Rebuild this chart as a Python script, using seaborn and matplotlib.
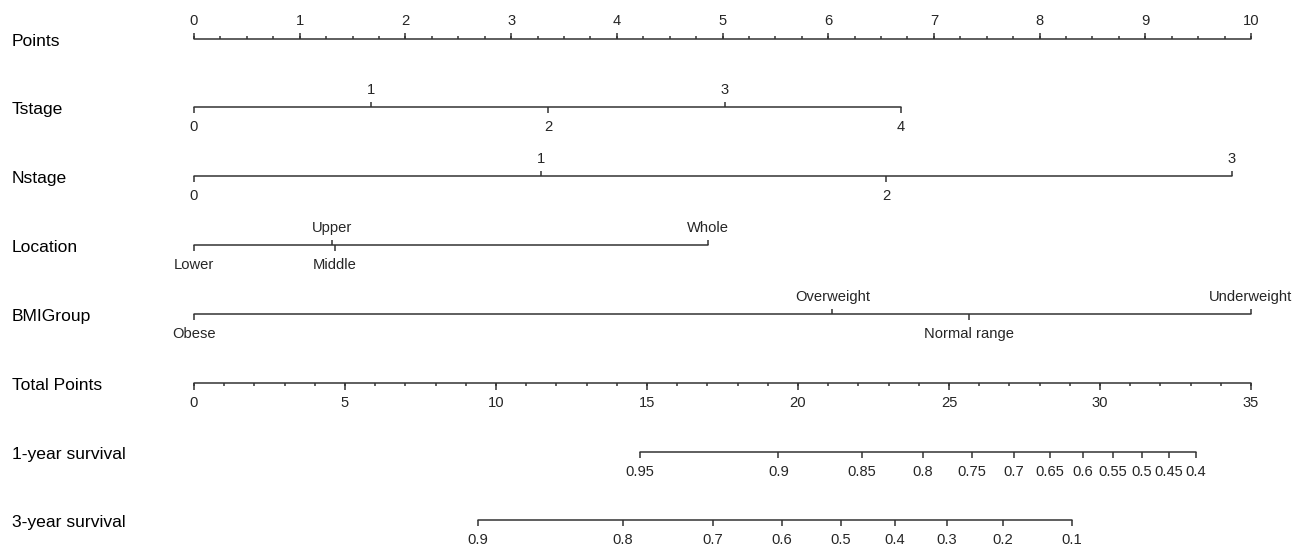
import numpy as np
import pandas as pd
import matplotlib
matplotlib.use("Agg")
import matplotlib.pyplot as plt
import seaborn as sns

# ---------------- data ----------------
row_names = ["Points", "Tstage", "Nstage", "Location", "BMIGroup",
             "Total Points", "1-year survival", "3-year survival"]

points_ticks = [0, 1, 2, 3, 4, 5, 6, 7, 8, 9, 10]

tstage_levels = ["0", "1", "2", "3", "4"]
tstage_points = [0.0, 1.67, 3.35, 5.02, 6.69]

nstage_levels = ["0", "1", "2", "3"]
nstage_points = [0.0, 3.28, 6.55, 9.82]

location_levels = ["Lower", "Upper", "Middle", "Whole"]
location_points = [0.0, 1.31, 1.33, 4.86]

bmi_levels = ["Obese", "Overweight", "Normal range", "Underweight"]
bmi_points = [0.0, 6.04, 7.33, 10.0]

total_ticks = [0, 5, 10, 15, 20, 25, 30, 35]
total_max = 35

surv1_labels = ["0.95", "0.9", "0.85", "0.8", "0.75", "0.7", "0.65", "0.6",
                "0.55", "0.5", "0.45", "0.4"]
surv1_total = [14.77, 19.35, 22.12, 24.13, 25.76, 27.14, 28.33, 29.44,
               30.42, 31.39, 32.28, 33.17]

surv3_labels = ["0.9", "0.8", "0.7", "0.6", "0.5", "0.4", "0.3", "0.2", "0.1"]
surv3_total = [9.40, 14.20, 17.18, 19.47, 21.42, 23.21, 24.93, 26.79, 29.07]

# ---------------- layout / style ----------------
sns.set_theme(style="white")
plt.rcParams["font.family"] = ["Liberation Sans", "DejaVu Sans"]

W, H = 1302, 546
x0_px, px_per_pt = 194.0, 105.7
row_y = [39, 107, 176, 245, 314, 383, 452, 520]
line_color = "#333333"
lw = 1.1
lab_fs = 12.6
tick_fs = 10.6
major_len, minor_len = 6.5, 3.0
cat_len = 5.5

# baseline offsets (pixels) relative to the axis line
lab_base = 6.8       # row label baseline below line
below_base = 24.3    # tick label baseline for labels below line
above_base = -13.0   # tick label baseline for labels above line
pts_base = -14.2     # Points axis labels

fig = plt.figure(figsize=(W / 100, H / 100), dpi=100)
ax = fig.add_axes([0, 0, 1, 1])
ax.set_xlim(-x0_px / px_per_pt, (W - x0_px) / px_per_pt)
ax.set_ylim(H, 0)
ax.axis("off")

scale_tp = 10.0 / total_max  # total points -> points coordinate

# horizontal axis lines, drawn through seaborn
segments = []
def add_seg(name, a, b, y):
    segments.append({"row": name, "x": a, "y": y})
    segments.append({"row": name, "x": b, "y": y})

add_seg("Points", 0, 10, row_y[0])
add_seg("Tstage", min(tstage_points), max(tstage_points), row_y[1])
add_seg("Nstage", min(nstage_points), max(nstage_points), row_y[2])
add_seg("Location", min(location_points), max(location_points), row_y[3])
add_seg("BMIGroup", min(bmi_points), max(bmi_points), row_y[4])
add_seg("Total Points", 0, total_max * scale_tp, row_y[5])
add_seg("1-year survival", min(surv1_total) * scale_tp, max(surv1_total) * scale_tp, row_y[6])
add_seg("3-year survival", min(surv3_total) * scale_tp, max(surv3_total) * scale_tp, row_y[7])
seg_df = pd.DataFrame(segments)
sns.lineplot(data=seg_df, x="x", y="y", units="row", estimator=None,
             color=line_color, linewidth=lw, ax=ax, legend=False, sort=False)

# row labels
for name, y in zip(row_names, row_y):
    ax.text(-x0_px / px_per_pt + 12 / px_per_pt, y + lab_base, name, fontsize=lab_fs,
            ha="left", va="baseline", color="black")

# Points axis: ticks up, labels above
y = row_y[0]
minor = np.arange(0, 10.001, 0.25)
ax.vlines(minor, y - minor_len, y, color=line_color, lw=lw)
ax.vlines(points_ticks, y - major_len, y, color=line_color, lw=lw)
for t in points_ticks:
    ax.text(t, y + pts_base, str(t), fontsize=tick_fs, ha="center", va="baseline")

# categorical rows: alternate below / above
def cat_row(levels, pts, y):
    order = np.argsort(pts, kind="stable")
    for k, i in enumerate(order):
        p = pts[i]
        if k % 2 == 0:  # below
            ax.vlines(p, y, y + cat_len, color=line_color, lw=lw)
            ax.text(p, y + below_base, levels[i], fontsize=tick_fs, ha="center", va="baseline")
        else:  # above
            ax.vlines(p, y - cat_len, y, color=line_color, lw=lw)
            ax.text(p, y + above_base, levels[i], fontsize=tick_fs, ha="center", va="baseline")

cat_row(tstage_levels, tstage_points, row_y[1])
cat_row(nstage_levels, nstage_points, row_y[2])
cat_row(location_levels, location_points, row_y[3])
cat_row(bmi_levels, bmi_points, row_y[4])

# Total points: ticks down, labels below
y = row_y[5]
tminor = np.arange(0, total_max + 0.001, 1) * scale_tp
ax.vlines(tminor, y, y + minor_len, color=line_color, lw=lw)
ax.vlines(np.array(total_ticks) * scale_tp, y, y + major_len, color=line_color, lw=lw)
for t in total_ticks:
    ax.text(t * scale_tp, y + below_base, str(t), fontsize=tick_fs, ha="center", va="baseline")

# survival rows
def surv_row(labels, totals, y):
    xs = np.array(totals) * scale_tp
    ax.vlines(xs, y, y + cat_len, color=line_color, lw=lw)
    for xv, lab in zip(xs, labels):
        ax.text(xv, y + below_base, lab, fontsize=tick_fs, ha="center", va="baseline")

surv_row(surv1_labels, surv1_total, row_y[6])
surv_row(surv3_labels, surv3_total, row_y[7])

fig.savefig("out.png", dpi=100, facecolor="white")
